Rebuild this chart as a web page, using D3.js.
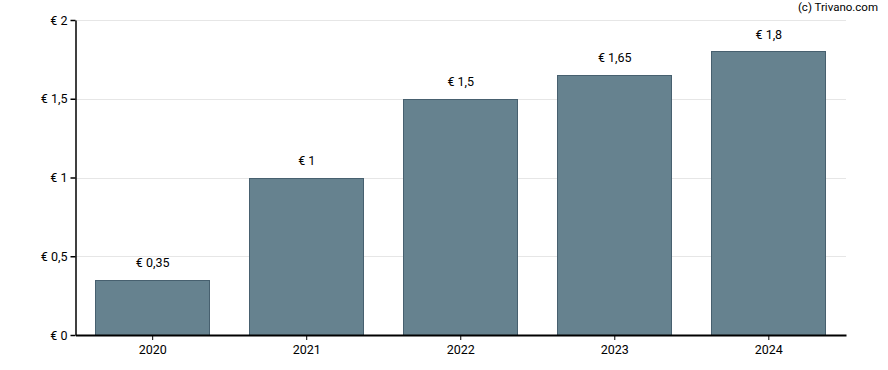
<!DOCTYPE html>
<html><head><meta charset="utf-8">
<script src="https://cdn.jsdelivr.net/npm/d3@7"></script>
<style>body{margin:0;background:#fff;}svg{display:block;font-family:Roboto,"Noto Sans",sans-serif;}</style>
</head><body>
<svg id="c" width="888" height="370"></svg>
<script>
const categories = ["2020","2021","2022","2023","2024"];
const values = [0.35, 1, 1.5, 1.65, 1.8];
const valueLabels = ["€ 0,35","€ 1","€ 1,5","€ 1,65","€ 1,8"];
const yTicks = [0, 0.5, 1, 1.5, 2];
const yTickLabels = ["€ 0","€ 0,5","€ 1","€ 1,5","€ 2"];

const svg = d3.select("#c");
const m = {l:75.5, r:846, t:20, b:335};
const x = d3.scaleBand().domain(categories).range([m.l, m.r]).paddingInner(0.258).paddingOuter(0.13);
const y = d3.scaleLinear().domain([0,2]).range([m.b, m.t]);

// gridlines
svg.append("g").selectAll("line").data(yTicks.slice(1)).join("line")
  .attr("x1", m.l).attr("x2", m.r)
  .attr("y1", d=>Math.round(y(d))+0.5).attr("y2", d=>Math.round(y(d))+0.5)
  .attr("stroke","#e6e6e6").attr("stroke-width",1);

// bars
svg.append("g").selectAll("rect").data(values).join("rect")
  .attr("x", (d,i)=>Math.floor(x(categories[i]))+0.5)
  .attr("y", d=>Math.round(y(d))+0.5)
  .attr("width", Math.round(x.bandwidth()))
  .attr("height", d=>y(0)-Math.round(y(d)))
  .attr("fill","#66828f").attr("stroke","#47606f").attr("stroke-width",1);

// value labels
svg.append("g").selectAll("text").data(values).join("text")
  .attr("x", (d,i)=>x(categories[i])+x.bandwidth()/2)
  .attr("y", d=>y(d)-13)
  .attr("text-anchor","middle").attr("font-size",12.5).attr("fill","#000")
  .text((d,i)=>valueLabels[i]);

// y axis
const ya = d3.axisLeft(y).tickValues(yTicks).tickFormat((d,i)=>yTickLabels[i]).tickSize(5).tickSizeOuter(0);
const gy = svg.append("g").attr("transform",`translate(${m.l},0)`).call(ya);
gy.select(".domain").attr("stroke","#000").attr("stroke-width",1.5);
gy.selectAll(".tick line").attr("stroke","#000").attr("stroke-width",1.5);
gy.selectAll(".tick text").attr("font-size",12.5).attr("font-family","Roboto,sans-serif").attr("fill","#000").attr("x",-8);

// x axis
const xa = d3.axisBottom(x).tickSize(5).tickSizeOuter(0);
const gx = svg.append("g").attr("transform",`translate(0,${m.b})`).call(xa);
gx.select(".domain").attr("stroke","#000").attr("stroke-width",2);
gx.selectAll(".tick line").attr("stroke","#000").attr("stroke-width",1);
gx.selectAll(".tick text").attr("font-size",12.5).attr("font-family","Roboto,sans-serif").attr("fill","#000").attr("dy","0.9em");

// credit
svg.append("text").attr("x",878).attr("y",11).attr("text-anchor","end")
  .attr("font-size",11.5).attr("fill","#000").text("(c) Trivano.com");
</script>
</body></html>
